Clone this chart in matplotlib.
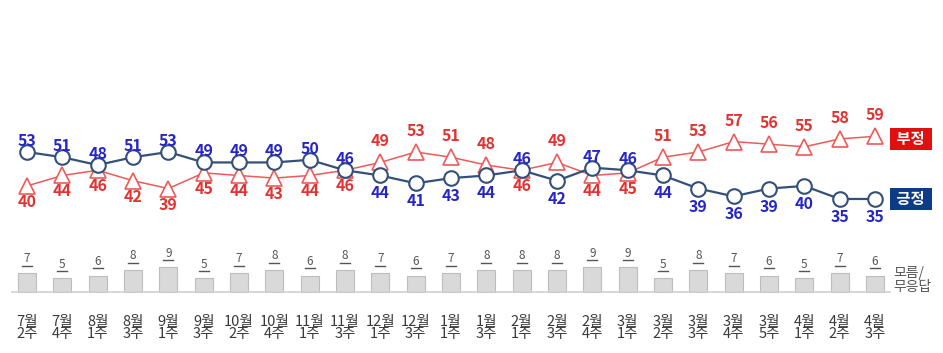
import matplotlib.pyplot as plt
import numpy as np

plt.rcParams['font.family'] = ['Noto Sans CJK KR', 'DejaVu Sans']

# 조사 시점
weeks = ['7월\n2주', '7월\n4주', '8월\n1주', '8월\n3주', '9월\n1주', '9월\n3주',
         '10월\n2주', '10월\n4주', '11월\n1주', '11월\n3주', '12월\n1주', '12월\n3주',
         '1월\n1주', '1월\n3주', '2월\n1주', '2월\n3주', '2월\n4주', '3월\n1주',
         '3월\n2주', '3월\n3주', '3월\n4주', '3월\n5주', '4월\n1주', '4월\n2주', '4월\n3주']
positive = [53, 51, 48, 51, 53, 49, 49, 49, 50, 46, 44, 41, 43, 44, 46, 42, 47, 46,
            44, 39, 36, 39, 40, 35, 35]
negative = [40, 44, 46, 42, 39, 45, 44, 43, 44, 46, 49, 53, 51, 48, 46, 49, 44, 45,
            51, 53, 57, 56, 55, 58, 59]
unknown = [7, 5, 6, 8, 9, 5, 7, 8, 6, 8, 7, 6, 7, 8, 8, 8, 9, 9, 5, 8, 7, 6, 5, 7, 6]

x = np.arange(len(weeks))

W, H = 943, 353
fig = plt.figure(figsize=(W / 100, H / 100), dpi=100)

# 좌표 맞추기: 첫 점 x=27px, 간격 35.33px
step = (875 - 27) / 24
xl = (-27 / step, 24 + (W - 875) / step)

# 선 그래프 축 (53 -> y=152px, 2.61px/pt)
ax = fig.add_axes([0, 0, 1, 1])
ppu = 2.61
ax.set_xlim(*xl)
ax.set_ylim(53 - (H - 152) / ppu, 53 + 152 / ppu)
ax.axis('off')

# 막대 축 (기준선 y=292px, 2.75px/pt)
bx = fig.add_axes([0, 0, 1, 1])
bpu = 2.75
bx.set_xlim(*xl)
bx.set_ylim(-(H - 292) / bpu, 292 / bpu)
bx.axis('off')
bx.patch.set_alpha(0)

blue_line = '#34507a'
blue_txt = '#2626c8'
red_line = '#ec5a5a'
red_txt = '#e23232'

ax.plot(x, negative, color=red_line, lw=1.1, marker='^', ms=11, mfc='white',
        mec=red_line, mew=1.2, zorder=3)
ax.plot(x, positive, color=blue_line, lw=1.6, marker='o', ms=10.5, mfc='white',
        mec=blue_line, mew=1.5, zorder=4)

lab = dict(ha='center', va='center', fontsize=11.5, fontweight='bold', zorder=5)
for i in x:
    p, n = positive[i], negative[i]
    if p >= n:
        ax.text(i, p + 11 / ppu, str(p), color=blue_txt, **lab)
        ax.text(i, n - 16 / ppu, str(n), color=red_txt, **lab)
    else:
        ax.text(i, p - 18 / ppu, str(p), color=blue_txt, **lab)
        ax.text(i, n + 21 / ppu, str(n), color=red_txt, **lab)

# 모름/무응답 막대
bx.bar(x, unknown, width=18 / step, color='#d9d9d9', edgecolor='#bdbdbd', lw=0.8)
bx.plot([12 / step + xl[0], 890 / step + xl[0]], [0, 0], color='#d0d0d0', lw=1.2)
for i in x:
    bx.text(i, unknown[i] + 2.8, str(unknown[i]), color='#555555', style='italic',
            ha='center', va='bottom', fontsize=8.5)
    bx.plot([i - 0.14, i + 0.14], [unknown[i] + 2.6, unknown[i] + 2.6],
            color='#555555', lw=1.0)

bx.text(24 + 18 / step, 4.3, '모름/\n무응답', color='#555555', fontsize=10,
        ha='left', va='center', linespacing=1.05)

# 시점 라벨
for i in x:
    bx.text(i, -(328 - 292) / bpu, weeks[i], color='#3a3a3a', fontsize=10.5,
            ha='center', va='center', linespacing=0.9)

# 범례 박스
ax.text(24 + 36 / step, negative[-1] - 1, ' 부정 ', color='white', fontsize=11, fontweight='bold',
        ha='center', va='center',
        bbox=dict(boxstyle='square,pad=0.2', fc='#e01010', ec='none'))
ax.text(24 + 36 / step, positive[-1], ' 긍정 ', color='white', fontsize=11, fontweight='bold',
        ha='center', va='center',
        bbox=dict(boxstyle='square,pad=0.2', fc='#0c3c86', ec='none'))

fig.savefig('out.png', dpi=100)
